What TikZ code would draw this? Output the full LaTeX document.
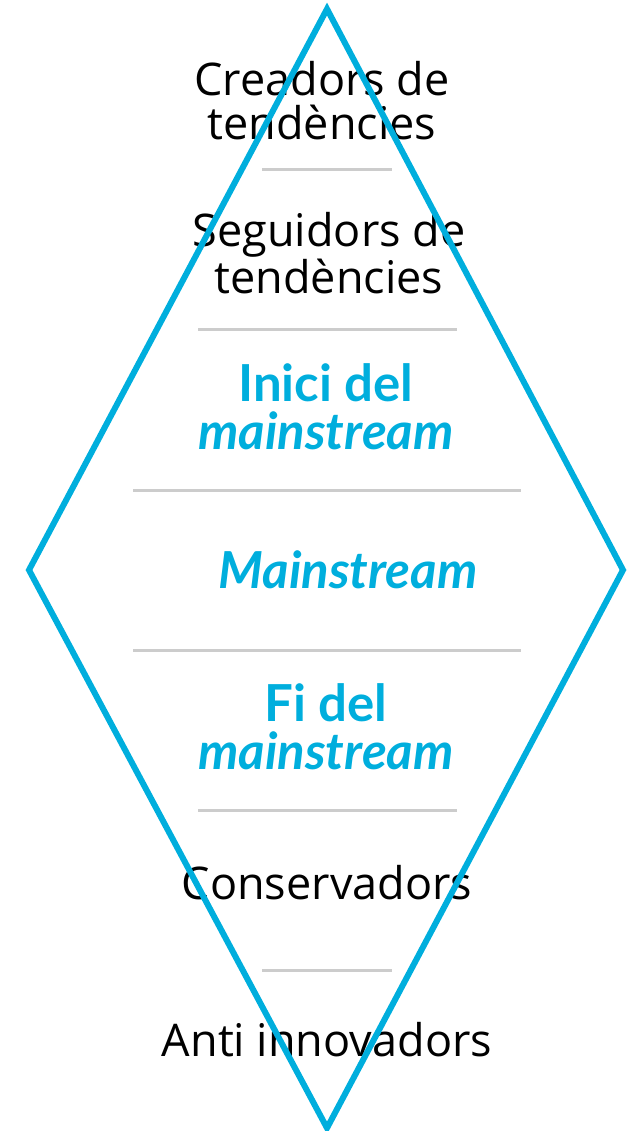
\documentclass[tikz,border=0pt]{standalone}
\usepackage{fontspec}
\setmainfont{Open Sans}
\newfontfamily\bluefont{Lato}
\definecolor{trendblue}{HTML}{00AEDD}
\definecolor{sepgray}{HTML}{CCCCCC}
\tikzset{
  plain/.style={align=center, font=\fontsize{45}{44}\selectfont, text=black, inner sep=0pt},
  strong/.style={align=center, font=\bluefont\bfseries\fontsize{51}{48}\selectfont, text=trendblue, inner sep=0pt},
  sep/.style={draw=sepgray, line width=3pt},
}
\begin{document}
\begin{tikzpicture}[x=1pt, y=-1pt]
				\useasboundingbox (0,0) rectangle (626,1131);
				% levels, top to bottom
				\node[plain] (creadors) at (322,101) {Creadors de\\tendències};
				\node[plain] (seguidors) at (329,253) {Seguidors de\\tendències};
				\node[strong] (inici) at (326,407) {Inici del\\\itshape mainstream};
				\node[strong] (main) at (348,570) {\itshape Mainstream};
				\node[strong] (fi) at (326,727) {Fi del\\\itshape mainstream};
				\node[plain] (conserv) at (327,883) {Conservadors};
				\node[plain] (anti) at (327,1040) {Anti innovadors};
				
				\draw[sep] (262,170) -- (392,170);
				\draw[sep] (198,329) -- (457,329);
				\draw[sep] (133,490) -- (521,490);
				\draw[sep] (133,650) -- (521,650);
				\draw[sep] (198,810) -- (457,810);
				\draw[sep] (262,970) -- (392,970);
				
				\draw[trendblue, line width=6pt, line join=miter] (327,9) -- (623,570) -- (327,1128) -- (29,570) -- cycle;
			\end{tikzpicture}
\end{document}
